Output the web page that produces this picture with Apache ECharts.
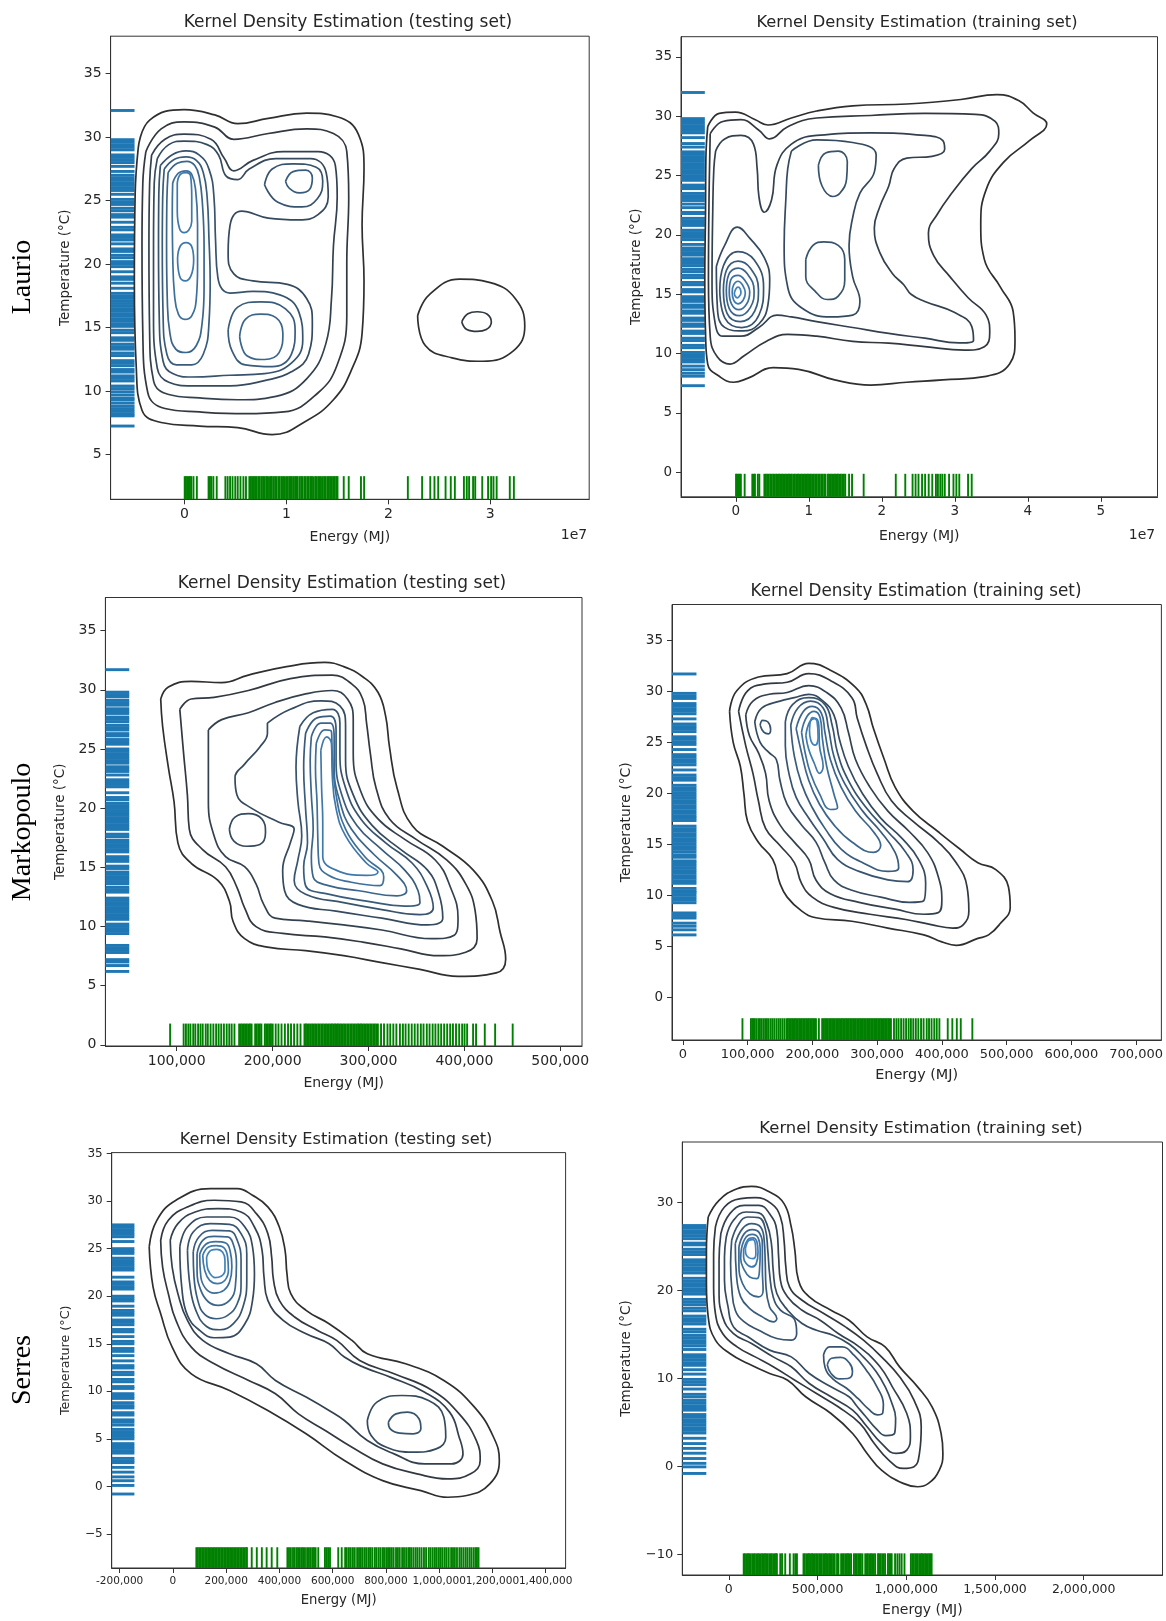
<!DOCTYPE html>
<html><head><meta charset="utf-8">
<script src="https://cdn.jsdelivr.net/npm/echarts@6/dist/echarts.min.js"></script>
<style>html,body{margin:0;padding:0;background:#fff}#c{width:1166px;height:1621px}</style>
</head><body><div id="c"></div>
<script>
// ---------------- DATA ----------------
const ROW_LABELS = ['Laurio', 'Markopoulo', 'Serres'];
const TITLES = ['Kernel Density Estimation (testing set)', 'Kernel Density Estimation (training set)',
  'Kernel Density Estimation (testing set)', 'Kernel Density Estimation (training set)',
  'Kernel Density Estimation (testing set)', 'Kernel Density Estimation (training set)'];

// tick values
const P1_x_ticks = [0, 1, 2, 3];              // x 1e7 MJ
const P1_y_ticks = [5, 10, 15, 20, 25, 30, 35];
const P2_x_ticks = [0, 1, 2, 3, 4, 5];        // x 1e7 MJ
const P2_y_ticks = [0, 5, 10, 15, 20, 25, 30, 35];
const P3_x_ticks = [100, 200, 300, 400, 500]; // x thousand MJ
const P3_y_ticks = [0, 5, 10, 15, 20, 25, 30, 35];
const P4_x_ticks = [0, 100, 200, 300, 400, 500, 600, 700];
const P4_y_ticks = [0, 5, 10, 15, 20, 25, 30, 35];
const P5_x_ticks = [-200, 0, 200, 400, 600, 800, 1000, 1200, 1400];
const P5_y_ticks = [-5, 0, 5, 10, 15, 20, 25, 30, 35];
const P6_x_ticks = [0, 500, 1000, 1500, 2000];
const P6_y_ticks = [-10, 0, 10, 20, 30];

// rug values: energy (bottom, green) and temperature (left, blue)
const P1_energy_rug = [0.002,0.014,0.027,0.041,0.053,0.066,0.088,0.121,0.236,0.249,0.262,0.283,0.316,0.401,0.423,0.447,0.471,0.498,0.522,0.549,0.578,0.603,
0.636,0.651,0.664,0.681,0.694,0.709,0.726,0.739,0.757,0.771,0.784,0.801,0.813,0.829,0.846,0.857,
0.874,0.889,0.903,0.921,0.934,0.951,0.966,0.978,0.996,1.009,1.026,1.041,1.054,1.072,1.086,1.099,1.111,
1.131,1.146,1.158,1.176,1.189,1.206,1.219,1.236,1.248,1.261,
1.281,1.294,1.311,1.326,1.339,1.356,1.371,1.384,1.401,1.416,1.429,1.446,1.461,1.474,1.489,1.501,
1.562,1.611,1.731,1.762,2.191,2.331,2.411,2.452,2.489,2.561,2.612,2.652,2.741,2.769,2.792,2.831,2.852,2.921,2.978,3.008,3.031,3.062,3.191,3.231];
const P1_temp_rug = [32.1,29.8,29.6,29.4,29.2,29.0,28.6,28.4,28.2,28.0,27.7,27.3,27.0,26.8,26.6,26.4,26.2,26.0,25.8,25.5,25.1,24.9,24.7,24.4,24.2,23.9,23.7,23.3,22.9,22.7,22.3,22.1,21.9,21.6,21.2,21.0,20.7,20.5,20.2,20.0,19.8,19.4,19.0,18.8,18.5,18.1,17.7,17.5,17.3,17.1,16.9,16.7,16.5,16.3,16.1,15.9,15.7,15.5,15.3,15.1,14.8,14.6,14.2,14.0,13.7,13.5,13.3,13.0,12.8,12.4,12.2,12.0,11.7,11.5,11.2,11.0,10.8,10.4,10.2,9.95,9.7,9.45,9.3,9.05,8.8,8.6,8.4,8.2,8.05,7.25];

const P2_energy_rug = [0.003,0.021,0.038,0.052,0.069,0.121,0.226,0.243,0.262,0.301,0.322,
0.391,0.412,0.431,0.449,0.471,0.489,0.511,0.528,0.551,0.569,0.591,0.609,0.631,0.648,0.671,0.689,0.711,0.729,0.751,0.768,0.791,0.809,0.829,0.851,0.869,0.891,0.909,0.931,0.949,0.971,0.989,1.011,1.029,1.051,1.069,1.091,1.109,1.131,1.149,1.171,1.189,1.211,1.229,
1.262,1.281,1.301,1.319,1.341,1.359,1.381,1.399,1.421,1.439,1.461,1.479,1.499,
1.551,1.592,1.751,2.191,2.321,2.421,2.462,2.502,2.551,2.593,2.642,2.691,2.741,2.768,2.801,2.829,2.862,2.921,2.981,3.021,3.061,3.181,3.231];
const P2_temp_rug = [32.0,29.8,29.6,29.4,29.2,29.0,28.8,28.6,28.2,27.7,27.4,27.0,26.8,26.6,26.4,26.2,26.0,25.8,25.6,25.4,25.2,25.0,24.8,24.6,24.2,24.0,23.9,23.5,23.3,23.1,22.9,22.6,22.3,21.9,21.8,21.4,21.2,21.0,20.8,20.4,20.2,20.0,19.8,19.6,19.2,18.9,18.7,18.5,18.3,18.0,17.8,17.6,17.4,17.1,16.9,16.6,16.4,16.0,15.8,15.4,15.2,14.8,14.6,14.4,14.1,13.9,13.6,13.4,13.0,12.8,12.5,12.3,11.9,11.7,11.3,11.1,10.7,10.5,10.1,9.9,9.7,9.5,9.3,8.95,8.65,8.35,8.1,7.3];

const P3_energy_rug = [93.1,107.2,109.6,112.1,114.3,117.2,119.4,122.3,124.8,127.1,130.2,132.4,135.3,138.2,141.1,143.7,146.4,149.2,152.1,154.8,157.3,160.2,
165.1,166.8,168.3,170.1,171.6,173.2,174.9,176.4,178.1,181.8,183.4,185.1,186.7,188.3,191.9,193.4,195.1,196.8,198.3,200.1,
203.2,206.1,209.3,212.8,216.1,219.2,222.4,225.8,229.1,
233.2,234.8,236.3,237.9,239.6,241.2,242.7,244.3,245.9,247.6,249.1,250.8,252.3,253.9,255.6,257.1,258.7,260.3,261.9,263.5,265.1,266.7,268.2,269.9,271.4,273.1,274.6,276.2,277.9,279.4,281.1,282.6,284.2,285.8,287.4,289.1,290.6,292.2,293.8,295.4,297.1,298.6,300.2,301.8,303.4,305.1,306.6,308.2,309.8,
313.1,316.2,319.8,322.7,325.9,329.1,332.8,335.9,338.7,341.9,345.1,348.2,351.3,354.6,357.4,360.8,363.7,366.9,369.8,372.9,375.8,378.9,382.1,385.2,388.1,391.3,394.6,397.7,400.2,402.9,409.1,412.2,421.3,432.1,450.4];
const P3_temp_rug = [31.7,29.8,29.6,29.4,29.1,28.9,28.7,28.4,28.2,28.0,27.7,27.5,27.3,27.0,26.8,26.6,26.3,26.1,25.8,25.6,25.4,25.0,24.8,24.6,24.4,24.2,24.0,23.8,23.5,23.3,23.1,22.8,22.4,22.2,22.0,21.8,21.3,20.9,20.7,20.4,20.2,20.0,19.8,19.6,19.4,19.2,19.0,18.8,18.6,18.4,18.2,17.8,17.6,17.3,17.1,16.9,16.7,16.5,16.3,15.9,15.7,15.5,15.1,14.9,14.6,14.4,14.2,14.0,13.8,13.6,13.3,13.1,12.9,12.4,12.2,12.0,11.8,11.6,11.4,11.2,11.0,10.8,10.6,10.2,10.0,9.8,9.6,9.4,8.4,8.2,8.0,7.8,7.2,7.0,6.7,6.2];

const P4_energy_rug = [92.1,105.2,107.3,109.1,111.2,113.8,116.7,119.1,121.8,124.6,127.2,129.9,132.6,135.8,138.7,141.6,144.8,147.9,150.7,153.8,156.9,
160.1,162.3,164.4,166.6,168.7,170.9,173.1,175.2,177.4,179.6,181.7,183.9,186.1,188.2,190.4,192.6,194.7,196.9,199.1,201.2,203.4,205.6,
210.1,215.2,217.4,219.6,221.7,223.9,226.1,228.2,230.4,232.6,234.7,236.9,239.1,241.2,243.4,245.6,247.7,249.9,252.1,254.2,256.4,258.6,260.7,262.9,265.1,267.2,269.4,271.6,273.7,275.9,278.1,280.2,282.4,284.6,286.7,288.9,291.1,293.2,295.4,297.6,299.7,301.9,304.1,306.2,308.4,310.6,312.7,314.9,317.1,319.2,321.4,
326.1,329.8,333.2,337.1,340.9,344.8,348.7,352.2,355.9,359.8,363.7,367.9,371.8,376.6,380.2,384.1,388.3,392.1,396.2,409.1,416.2,423.1,429.2,447.1];
const P4_temp_rug = [31.7,29.8,29.55,29.3,28.8,28.55,28.3,28.05,27.8,27.3,26.8,26.55,26.3,26.05,25.55,25.3,25.05,24.8,24.3,23.8,23.55,23.3,23.05,22.8,22.3,21.8,21.55,21.3,20.8,20.55,20.3,20.05,19.8,19.55,19.3,19.05,18.8,18.55,18.3,18.05,17.8,17.6,17.35,16.8,16.55,16.3,16.05,15.8,15.55,15.3,15.05,14.8,14.55,14.3,14.0,13.75,13.4,13.2,12.95,12.7,12.45,12.2,11.95,11.7,11.45,11.2,10.7,10.45,10.3,10.05,9.8,9.55,9.3,8.3,8.05,7.8,7.3,7.0,6.65,6.15];

const P5_energy_rug = [88,93.5,99,104.5,110,115.5,121,126.5,132,137.5,143,148.5,154,159.5,165,170.5,176,181.5,187,192.5,198,203.5,209,214.5,220,225.5,231,236.5,242,247.5,253,258.5,264,269.5,275,278,
296,315,334,352,371,392,
430,436,443,451,457,464,470,477,484,489,496,504,511,518,525,530,536,546,571,577,583,590,621,634,647,653,661,668,676,683,692,699,706,713,721,728,736,742,749,758,764,772,779,787,793,801,808,815,822,829,838,845,852,861,868,876,884,889,895,903,911,918,926,934,943,951,961,968,976,984,991,999,1006,1013,1021,1028,1036,1045,1052,1059,1067,1076,1083,1091,1099,1106,1114,1121,1129,1136,1142,1148];
const P5_temp_rug = [27.5,27.25,27.0,26.75,26.5,26.25,25.75,25.0,24.75,24.5,24.0,23.75,23.5,23.25,23.0,22.75,22.0,21.5,21.25,21.0,20.75,20.0,19.75,19.5,18.95,18.5,18.25,18.0,17.5,17.25,17.0,16.5,16.25,15.75,15.25,15.0,14.5,14.2,13.75,13.2,12.7,12.45,12.0,11.75,11.25,11.0,10.5,10.3,9.75,9.5,9.25,8.8,8.5,8.25,7.75,7.5,7.0,6.75,6.45,6.0,5.75,5.5,5.25,5.0,4.5,4.25,4.0,3.75,3.5,2.95,2.7,2.5,2.0,1.5,1.0,0.6,0.1,-0.8];

const P6_energy_rug = [84,91,99,108,115,123,132,140,147,156,164,171,180,188,195,204,212,219,228,236,243,252,260,267,271,
290,300,318,344,365,375,384,
421,428,437,445,452,461,469,476,485,493,500,509,517,524,533,541,548,557,565,572,581,589,597,
610,618,
633,641,648,657,665,672,681,689,705,713,720,729,737,744,753,769,777,784,793,801,808,817,825,841,849,856,865,873,881,897,905,912,918,
937,950,962,974,990,
1026,1034,1041,1050,1058,1065,1074,1082,1089,1098,1106,1113,1122,1130,1137,1143];
const P6_temp_rug = [27.4,27.1,26.8,26.5,26.2,25.9,25.4,25.2,24.7,24.4,24.1,23.5,23.2,22.9,22.6,22.3,22.0,21.4,21.1,20.8,20.5,20.2,19.9,19.6,19.0,18.7,18.4,18.0,17.7,17.1,16.8,16.5,16.2,15.6,15.3,14.9,14.6,14.3,14.0,13.7,13.3,12.7,12.4,12.1,11.8,11.5,11.0,10.5,9.9,9.6,9.3,8.8,8.2,7.9,7.5,7.2,6.9,6.6,6.4,5.9,5.6,5.3,5.0,4.7,4.4,4.1,3.8,3.2,2.6,2.05,1.5,0.9,0.35,-0.05,-0.8];

// contour rings: [level, [[energy, temperature], ...]]
const P1_rings = [
 [1, [[-0.454,29.14],[-0.342,31.34],[-0.004,32.16],[0.297,31.75],[0.522,31.06],[0.822,31.48],[1.198,31.89],[1.498,31.61],[1.705,30.24],[1.761,27.49],[1.742,23.08],[1.761,18.68],[1.742,14.55],[1.630,11.52],[1.461,9.32],[1.198,7.67],[0.860,6.57],[0.522,7.12],[0.146,7.25],[-0.229,7.53],[-0.417,8.49],[-0.473,11.80],[-0.492,18.68],[-0.484,25.56]]],
 [1, [[2.287,15.93],[2.400,17.58],[2.700,18.82],[3.000,18.54],[3.244,17.30],[3.338,15.10],[3.226,13.17],[2.925,12.35],[2.625,12.62],[2.362,13.59]]],
 [2, [[2.72,15.45],[2.78,16.1],[2.87,16.25],[2.97,16.05],[3.01,15.45],[2.96,14.85],[2.87,14.7],[2.77,14.85]]],
 [2, [[-0.379,28.86],[-0.229,30.65],[-0.004,31.20],[0.297,30.79],[0.484,29.83],[0.822,30.29],[1.198,30.65],[1.461,30.29],[1.592,28.86],[1.611,25.28],[1.592,20.05],[1.592,15.93],[1.498,12.07],[1.311,9.87],[0.973,8.36],[0.597,8.22],[0.146,8.36],[-0.192,8.63],[-0.360,9.87],[-0.409,14.55],[-0.417,21.43],[-0.409,26.38]]],
 [3, [[-0.323,28.59],[-0.192,29.83],[-0.004,30.24],[0.259,29.83],[0.391,28.31],[0.484,27.35],[0.672,28.17],[0.973,28.86],[1.311,28.86],[1.480,27.76],[1.498,25.28],[1.461,21.43],[1.442,17.30],[1.386,13.72],[1.198,10.97],[0.897,9.59],[0.522,9.32],[0.146,9.46],[-0.154,9.73],[-0.304,10.83],[-0.342,14.55],[-0.349,21.43],[-0.342,26.38]]],
 [4, [[-0.267,28.31],[-0.154,29.41],[-0.004,29.69],[0.222,29.41],[0.334,28.59],[0.409,26.93],[0.522,26.66],[0.635,27.49],[0.897,28.31],[1.235,28.31],[1.39,27.2],[1.41,25.3],[1.31,23.9],[1.123,23.49],[0.822,23.63],[0.560,24.18],[0.447,23.08],[0.428,20.88],[0.484,19.23],[0.672,18.68],[1.010,18.40],[1.198,17.30],[1.254,15.38],[1.217,12.90],[1.048,11.52],[0.785,10.83],[0.447,10.42],[0.071,10.42],[-0.154,10.70],[-0.267,11.80],[-0.304,15.93],[-0.304,21.43],[-0.297,26.38]]],
 [5, [[0.785,26.25],[0.860,27.49],[1.066,27.90],[1.292,27.63],[1.356,26.52],[1.303,25.15],[1.153,24.51],[0.916,24.87]]],
 [6, [[0.991,26.52],[1.066,27.29],[1.190,27.40],[1.254,26.80],[1.228,25.89],[1.130,25.61],[1.029,25.97]]],
 [5, [[-0.237,27.76],[-0.116,28.64],[0.015,28.92],[0.146,28.59],[0.240,27.48],[0.289,25.28],[0.304,21.98],[0.327,18.95],[0.447,17.72],[0.672,17.85],[0.935,17.58],[1.123,16.20],[1.160,14.00],[1.048,12.21],[0.785,11.38],[0.447,11.25],[0.071,11.11],[-0.116,11.38],[-0.210,12.35],[-0.248,15.92],[-0.255,21.43],[-0.252,25.56]]],
 [6, [[-0.199,27.49],[-0.098,28.26],[0.015,28.45],[0.116,28.17],[0.184,27.21],[0.222,25.28],[0.240,21.98],[0.252,18.68],[0.240,15.37],[0.184,12.90],[0.071,12.07],[-0.079,12.07],[-0.173,12.90],[-0.210,15.93],[-0.218,21.43],[-0.214,25.28]]],
 [6, [[0.428,14.82],[0.522,16.61],[0.747,17.03],[0.991,16.48],[1.085,14.82],[1.048,12.90],[0.860,11.93],[0.597,12.07],[0.466,13.17]]],
 [7, [[-0.161,27.21],[-0.071,27.95],[0.023,28.09],[0.101,27.76],[0.146,26.80],[0.176,24.73],[0.192,21.43],[0.192,18.13],[0.173,15.38],[0.116,13.59],[0.015,13.04],[-0.086,13.31],[-0.143,14.55],[-0.169,17.30],[-0.176,21.43],[-0.173,25.01]]],
 [7, [[0.541,14.27],[0.597,15.65],[0.747,16.06],[0.897,15.79],[0.965,14.55],[0.928,13.03],[0.785,12.49],[0.616,12.76]]],
 [8, [[-0.116,26.38],[-0.060,27.16],[0.015,27.35],[0.071,27.07],[0.109,25.83],[0.128,23.08],[0.128,19.78],[0.116,17.30],[0.071,15.93],[0.004,15.65],[-0.060,16.06],[-0.098,17.58],[-0.116,20.88],[-0.120,24.18]]],
 [9, [[-0.071,26.38],[-0.041,27.07],[0.015,27.21],[0.060,26.93],[0.071,25.28],[0.071,23.36],[0.041,22.67],[-0.004,22.48],[-0.049,22.81],[-0.071,24.18]]],
 [9, [[-0.068,20.47],[-0.041,21.43],[0.015,21.70],[0.071,21.38],[0.090,20.33],[0.064,19.09],[0.008,18.68],[-0.049,19.09]]]
];

const P2_rings = [
 [1, [[-0.385,29.12],[-0.227,30.24],[-0.005,30.35],[0.267,29.71],[0.440,29.26],[0.761,29.85],[1.107,30.44],[1.601,30.88],[2.342,31.03],[3.083,31.41],[3.577,31.82],[3.874,31.32],[4.071,30.29],[4.259,29.35],[4.022,27.94],[3.676,26.18],[3.429,23.82],[3.355,20.88],[3.404,17.94],[3.626,15.59],[3.799,13.53],[3.824,11.18],[3.750,9.12],[3.429,8.09],[2.836,7.79],[2.342,7.59],[1.848,7.35],[1.354,7.79],[0.860,8.68],[0.514,8.82],[0.168,7.94],[-0.030,7.59],[-0.227,8.09],[-0.385,9.12],[-0.415,11.76],[-0.425,16.18],[-0.415,22.06],[-0.410,26.47]]],
 [2, [[-0.351,28.53],[-0.178,29.56],[0.069,29.71],[0.316,28.82],[0.464,28.09],[0.711,29.12],[1.107,29.85],[1.848,30.06],[2.589,30.24],[3.281,30.15],[3.552,29.56],[3.602,28.53],[3.478,27.06],[3.231,25.59],[2.959,23.53],[2.762,21.76],[2.638,20.15],[2.712,18.24],[2.935,16.47],[3.182,14.71],[3.429,13.24],[3.478,11.76],[3.404,10.59],[3.132,10.29],[2.589,10.59],[2.095,10.88],[1.601,11.03],[1.107,11.47],[0.711,11.62],[0.415,11.03],[0.119,9.85],[-0.079,9.12],[-0.252,9.71],[-0.351,11.47],[-0.375,16.18],[-0.366,23.53]]],
 [3, [[-0.277,27.06],[-0.153,28.09],[0.069,28.38],[0.242,27.65],[0.292,25.59],[0.316,23.24],[0.390,21.91],[0.489,22.94],[0.563,25.88],[0.761,27.65],[1.107,28.38],[1.848,28.59],[2.589,28.38],[2.836,27.94],[2.861,27.21],[2.688,26.62],[2.342,26.47],[2.169,25.59],[2.095,24.12],[1.971,22.35],[1.897,20.59],[1.971,18.53],[2.144,16.76],[2.30,15.8],[2.40,15.0],[2.589,14.4],[2.984,13.5],[3.231,12.3],[3.256,11.1],[3.058,10.9],[2.589,11.3],[2.095,11.7],[1.601,12.2],[1.107,12.7],[0.761,13.09],[0.563,13.24],[0.316,12.21],[0.069,11.47],[-0.178,11.47],[-0.286,12.65],[-0.326,16.18],[-0.316,22.06],[-0.301,25.59]]],
 [4, [[-0.267,17.35],[-0.153,19.12],[0.020,20.65],[0.193,19.71],[0.390,18.09],[0.464,16.18],[0.440,14.12],[0.316,12.50],[0.094,11.91],[-0.153,12.21],[-0.252,13.82]]],
 [4, [[0.761,27.06],[1.107,28.0],[1.601,27.79],[1.922,26.76],[1.897,25.29],[1.700,23.53],[1.601,21.47],[1.551,19.12],[1.601,16.47],[1.700,14.41],[1.601,13.24],[1.304,13.09],[0.909,13.82],[0.711,15.59],[0.662,19.12],[0.687,23.24],[0.711,25.59]]],
 [5, [[1.131,25.88],[1.230,26.91],[1.403,27.06],[1.527,26.18],[1.517,24.71],[1.428,23.53],[1.329,23.24],[1.181,24.12]]],
 [5, [[0.958,17.94],[1.057,19.12],[1.206,19.41],[1.403,19.12],[1.492,17.94],[1.492,16.18],[1.403,14.85],[1.255,14.56],[1.082,15.29],[0.958,16.47]]],
 [5, [[-0.22,15.3],[-0.17,17.4],[0.03,18.6],[0.25,17.9],[0.38,15.6],[0.32,13.3],[0.08,12.2],[-0.15,13.0]]],
 [6, [[-0.17,15.3],[-0.13,17.0],[0.03,17.8],[0.20,17.2],[0.31,15.4],[0.26,13.6],[0.06,12.7],[-0.12,13.4]]],
 [7, [[-0.13,15.3],[-0.10,16.6],[0.03,17.2],[0.16,16.7],[0.25,15.3],[0.20,13.9],[0.05,13.2],[-0.09,13.8]]],
 [8, [[-0.09,15.2],[-0.07,16.2],[0.03,16.6],[0.12,16.2],[0.19,15.2],[0.15,14.2],[0.04,13.7],[-0.06,14.2]]],
 [9, [[-0.05,15.2],[-0.03,15.8],[0.03,16.1],[0.09,15.8],[0.13,15.1],[0.10,14.5],[0.03,14.2],[-0.03,14.5]]],
 [10, [[-0.02,15.1],[0.0,15.45],[0.03,15.6],[0.06,15.45],[0.07,15.1],[0.05,14.85],[0.02,14.7],[-0.01,14.85]]]
];

const P3_rings = [
 [1, [[83.3,29.22],[91.3,30.23],[115.1,30.72],[146.9,30.60],[174.7,31.24],[214.5,31.96],[254.3,32.31],[274.1,31.96],[294.0,31.10],[309.9,29.79],[317.9,27.77],[321.9,25.17],[329.8,21.70],[345.7,18.52],[377.5,16.78],[409.3,14.76],[429.2,12.15],[437.2,9.55],[443.1,7.24],[433.2,6.08],[393.4,5.79],[353.7,6.37],[313.9,6.95],[274.1,7.53],[234.4,7.96],[194.6,8.25],[170.8,8.97],[158.8,10.42],[154.9,12.15],[142.9,13.89],[115.1,15.34],[101.2,17.07],[97.2,20.54],[91.3,23.43],[85.3,26.90]]],
 [2, [[103.2,28.35],[115.1,29.22],[139.0,29.36],[174.7,29.94],[218.5,30.95],[262.2,31.24],[282.1,30.52],[294.0,29.22],[298.0,27.19],[302.0,24.59],[307.9,21.70],[321.9,19.09],[349.7,17.36],[381.5,15.62],[401.4,13.60],[411.3,11.29],[413.3,8.97],[401.4,7.82],[373.5,7.53],[333.8,8.11],[294.0,8.68],[254.3,9.12],[210.5,9.41],[182.7,9.99],[170.8,11.58],[162.8,13.31],[150.9,15.05],[127.0,16.49],[113.1,18.23],[111.1,21.12],[107.2,24.59]]],
 [3, [[133.0,26.61],[146.9,27.48],[174.7,28.06],[202.6,28.93],[234.4,29.65],[262.2,29.94],[278.1,29.22],[284.1,27.48],[284.1,24.59],[292.0,21.41],[309.9,19.09],[337.8,17.36],[369.6,15.62],[385.5,13.31],[393.4,10.71],[389.4,9.26],[365.6,8.97],[313.9,9.70],[274.1,10.13],[234.4,10.48],[202.6,10.71],[190.7,11.87],[182.7,13.60],[170.8,15.05],[150.9,15.91],[139.0,17.65],[133.0,20.54],[133.0,23.43]]],
 [4, [[194.6,27.19],[218.5,28.35],[250.3,29.07],[270.2,28.64],[276.1,26.90],[276.1,24.01],[284.1,21.12],[304.0,18.52],[333.8,16.49],[361.6,14.76],[373.5,12.73],[377.5,10.71],[361.6,10.13],[313.9,10.71],[266.2,11.29],[226.4,11.87],[212.5,13.02],[210.5,14.76],[218.5,17.07],[222.5,18.23],[206.6,18.81],[178.7,19.96],[162.8,21.12],[160.8,22.57],[170.8,23.72],[186.7,25.17],[194.6,26.32]]],
 [4, [[154.9,18.23],[160.8,19.24],[174.7,19.53],[188.7,19.09],[192.6,17.94],[186.7,16.93],[172.8,16.78],[159.6,17.22]]],
 [5, [[228.4,26.90],[242.3,28.06],[262.2,28.35],[270.2,27.19],[270.2,24.59],[276.1,21.70],[292.0,19.09],[317.9,17.07],[345.7,15.34],[361.6,13.31],[367.6,11.58],[353.7,11.0],[313.9,11.43],[274.1,12.01],[234.4,12.73],[222.5,13.89],[226.4,15.63],[230.4,17.65],[226.4,20.54],[224.4,23.43]]],
 [6, [[234.4,26.32],[246.3,27.63],[260.2,27.77],[266.2,26.61],[266.2,24.01],[272.2,21.12],[288.1,18.52],[313.9,16.49],[337.8,14.76],[351.7,13.02],[353.7,12.01],[337.8,11.72],[298.0,12.15],[258.2,12.73],[234.4,13.45],[232.4,15.05],[236.4,17.07],[234.4,19.96],[232.4,23.43]]],
 [7, [[240.4,26.03],[250.3,27.19],[260.2,27.19],[264.2,26.03],[264.2,23.43],[270.2,20.54],[282.1,18.23],[306.0,16.06],[329.8,14.32],[339.8,13.02],[329.8,12.59],[290.1,13.02],[258.2,13.45],[242.3,14.18],[240.4,15.91],[242.3,18.23],[240.4,21.12],[239.2,24.01]]],
 [8, [[245.5,25.46],[254.3,26.61],[261.4,26.47],[262.2,24.59],[266.2,21.12],[276.1,18.23],[296.0,15.91],[315.9,14.18],[311.9,13.45],[282.1,13.74],[258.2,14.32],[248.3,15.34],[247.1,17.65],[246.3,20.54],[244.7,23.43]]],
 [9, [[250.3,24.88],[256.3,26.03],[261.4,25.46],[262.2,22.85],[266.2,19.96],[276.1,17.65],[298.0,15.34],[309.9,14.61],[298.0,14.32],[266.2,14.76],[252.3,15.91],[252.3,18.81],[251.1,21.70]]]
];

const P4_rings = [
 [1, [[72.2,28.03],[83.3,30.05],[116.7,31.40],[161.1,31.73],[194.4,32.74],[227.8,32.07],[266.7,30.39],[283.3,28.70],[294.4,26.35],[311.1,23.32],[327.8,20.62],[355.6,18.27],[394.4,16.25],[427.8,14.56],[455.6,13.22],[483.3,12.54],[502.8,10.86],[505.6,8.84],[488.9,7.16],[472.2,6.15],[455.6,5.81],[422.2,5.13],[400.0,5.47],[372.2,6.15],[316.7,6.82],[261.1,7.49],[205.6,7.83],[183.3,8.50],[161.1,9.85],[150.0,11.20],[138.9,13.54],[116.7,15.23],[100.0,17.26],[94.4,19.95],[88.9,22.64],[77.8,25.00]]],
 [2, [[86.1,28.03],[100.0,30.05],[127.8,30.72],[161.1,30.89],[194.4,31.73],[227.8,31.06],[261.1,29.38],[269.4,27.36],[283.3,24.66],[300.0,21.97],[322.2,19.28],[355.6,17.26],[394.4,15.24],[422.2,13.22],[438.9,10.86],[441.7,8.50],[433.3,7.16],[416.7,6.82],[383.3,7.16],[344.4,7.66],[288.9,8.17],[233.3,8.84],[200.0,9.85],[183.3,11.20],[172.2,13.22],[150.0,14.90],[127.8,16.58],[116.7,19.28],[108.3,21.97],[97.2,24.66]]],
 [3, [[97.2,27.69],[108.3,29.04],[133.3,29.71],[161.1,29.88],[194.4,30.56],[222.2,29.88],[244.4,28.37],[255.6,26.01],[266.7,23.32],[288.9,20.62],[316.7,18.27],[350.0,16.25],[377.8,14.23],[394.4,11.87],[400.0,9.51],[394.4,8.33],[372.2,8.17],[327.8,8.67],[272.2,9.34],[227.8,10.19],[205.6,11.53],[194.4,13.54],[172.2,15.23],[150.0,16.92],[133.3,19.28],[127.8,21.97],[116.7,23.99],[102.8,25.67]]],
 [4, [[111.1,27.02],[122.2,28.37],[150.0,29.04],[172.2,29.38],[194.4,29.71],[216.7,29.04],[233.3,27.69],[241.7,25.34],[255.6,22.64],[277.8,19.95],[305.6,17.59],[338.9,15.57],[363.9,13.55],[375.0,11.20],[372.2,9.51],[350.0,9.34],[305.6,9.85],[261.1,10.52],[233.3,11.53],[219.4,13.22],[205.6,15.23],[183.3,16.92],[161.1,18.94],[150.0,21.29],[144.4,23.32],[133.3,23.99],[119.4,25.00]]],
 [5, [[119.4,26.68],[123.3,27.16],[131.1,27.02],[135.6,26.28],[132.2,25.84],[125.0,26.01]]],
 [5, [[158.3,27.02],[169.4,28.70],[194.4,29.38],[219.4,28.70],[230.6,26.68],[238.9,23.99],[255.6,21.29],[283.3,18.60],[316.7,16.25],[344.4,14.23],[355.6,12.54],[347.2,11.36],[316.7,11.53],[272.2,12.37],[238.9,13.55],[216.7,15.57],[194.4,17.59],[175.0,19.61],[163.9,21.97],[158.3,24.66]]],
 [6, [[166.7,26.68],[177.8,28.37],[197.2,29.04],[216.7,28.37],[225.0,26.35],[233.3,23.65],[250.0,20.96],[277.8,18.27],[305.6,16.25],[327.8,14.23],[333.3,12.71],[316.7,12.37],[277.8,13.22],[244.4,14.56],[219.4,16.58],[200.0,18.60],[183.3,20.96],[172.2,23.65]]],
 [7, [[175.0,26.35],[186.1,28.03],[200.0,28.53],[213.9,27.86],[219.4,26.01],[227.8,23.32],[244.4,20.62],[266.7,18.27],[294.4,16.25],[305.6,14.90],[294.4,14.23],[261.1,15.24],[233.3,16.92],[211.1,18.94],[194.4,21.29],[183.3,23.99]]],
 [8, [[183.3,26.01],[191.7,27.53],[202.8,28.03],[212.2,27.36],[215.6,25.34],[222.2,22.64],[233.3,19.95],[238.9,18.60],[227.8,18.43],[211.1,19.95],[197.2,21.97],[188.9,23.99]]],
 [9, [[190.0,25.67],[196.1,27.02],[204.4,27.36],[210.0,26.68],[211.1,24.66],[216.7,22.64],[211.1,21.97],[202.8,22.98],[194.4,24.33]]],
 [10, [[195.6,26.18],[200.0,27.42],[207.2,27.09],[208.9,25.51],[204.4,24.73],[197.8,25.17]]]
];

const P5_rings = [
 [1, [[-89.1,25.18],[-60.4,27.98],[11.5,30.09],[140.9,31.31],[241.5,31.31],[299.0,30.61],[356.5,29.39],[399.6,27.28],[421.2,24.82],[428.3,22.37],[442.7,20.26],[500.2,18.51],[586.5,17.11],[672.7,15.35],[730.2,13.95],[873.9,12.89],[1017.7,11.14],[1132.7,8.33],[1204.5,5.17],[1226.1,2.72],[1190.2,0.26],[1103.9,-0.96],[1032.1,-1.14],[931.4,-0.44],[787.7,0.61],[644.0,2.72],[500.2,5.53],[356.5,7.98],[212.7,10.09],[69.0,11.84],[-2.9,14.65],[-46.0,18.16],[-74.7,20.97]]],
 [2, [[-46.0,25.88],[-17.2,27.98],[54.6,29.39],[155.2,30.09],[255.9,29.91],[313.4,28.68],[356.5,26.58],[370.8,24.12],[378.0,21.67],[399.6,19.56],[457.1,17.81],[543.3,16.40],[615.2,15.35],[701.5,13.25],[830.8,11.84],[974.6,10.09],[1075.2,7.63],[1139.9,4.82],[1154.2,2.72],[1118.3,1.32],[1032.1,0.79],[917.1,1.32],[787.7,2.37],[672.7,4.12],[572.1,5.88],[471.5,7.63],[385.2,9.74],[284.6,11.14],[155.2,12.89],[69.0,14.65],[11.5,17.45],[-17.2,20.26],[-38.8,23.07]]],
 [3, [[-10.1,25.88],[18.7,27.63],[83.4,28.86],[169.6,29.21],[255.9,28.86],[306.2,27.28],[334.9,24.82],[342.1,22.02],[356.5,19.56],[414.0,17.46],[500.2,16.05],[586.5,15.00],[644.0,13.60],[715.8,12.54],[816.4,11.49],[945.8,9.91],[1039.2,7.81],[1075.2,5.18],[1089.5,3.42],[1046.4,2.37],[945.8,2.37],[830.8,3.42],[730.2,4.82],[644.0,6.93],[586.5,7.98],[500.2,9.39],[385.2,11.14],[313.4,12.89],[212.7,13.95],[112.1,15.35],[54.6,17.45],[18.7,20.26],[-2.9,23.07]]],
 [4, [[25.9,25.18],[54.6,27.28],[126.5,28.33],[212.7,28.33],[270.2,27.28],[299.0,25.18],[306.2,22.37],[299.0,19.56],[270.2,17.10],[212.7,15.70],[155.2,15.63],[100.6,16.40],[54.6,17.98],[33.1,20.97]]],
 [4, [[730.2,6.93],[766.1,8.86],[859.6,9.56],[960.2,9.04],[1017.7,7.28],[1024.9,5.18],[988.9,3.95],[902.7,3.60],[802.1,4.12],[744.6,5.35]]],
 [5, [[809.3,6.75],[838.0,7.63],[881.1,7.81],[924.3,7.11],[931.4,6.05],[902.7,5.53],[852.4,5.60],[816.4,6.05]]],
 [5, [[54.6,24.82],[76.2,26.75],[140.9,27.63],[212.7,27.56],[255.9,26.58],[277.4,24.47],[277.4,21.67],[263.0,18.86],[227.1,17.12],[176.8,16.47],[126.5,16.82],[86.2,18.51],[64.7,20.97]]],
 [6, [[76.2,24.65],[97.7,26.23],[148.1,26.93],[212.7,26.86],[241.5,25.88],[255.9,23.77],[255.9,21.32],[241.5,19.21],[205.5,17.98],[162.4,17.63],[119.3,18.09],[93.4,19.56],[79.1,22.02]]],
 [7, [[90.6,24.47],[112.1,25.88],[155.2,26.30],[205.5,26.23],[230.0,25.18],[238.6,23.42],[234.3,20.97],[212.7,19.56],[169.6,19.04],[133.7,19.39],[104.9,20.61],[90.6,22.72]]],
 [8, [[100.6,24.40],[123.6,25.46],[159.6,25.74],[198.4,25.60],[215.6,24.65],[221.4,23.07],[212.7,21.49],[191.2,20.61],[155.2,20.33],[123.6,20.79],[104.9,22.02]]],
 [9, [[112.1,24.30],[133.7,25.18],[162.4,25.32],[191.2,25.11],[205.5,24.12],[208.4,22.72],[195.5,21.67],[166.7,21.32],[138.0,21.67],[119.3,22.72]]],
 [10, [[126.5,24.12],[143.7,24.82],[165.3,24.93],[186.9,24.61],[195.5,23.77],[195.5,22.72],[181.1,22.09],[158.1,21.95],[138.0,22.44],[127.9,23.25]]]
];

const P6_rings = [
 [1, [[-116.0,28.37],[-54.9,30.27],[46.8,31.59],[128.2,31.86],[229.9,31.21],[311.3,29.89],[352.0,27.24],[372.3,24.58],[392.7,21.17],[453.7,19.28],[575.8,17.77],[677.5,16.63],[779.3,14.74],[881.0,13.60],[962.4,11.32],[1064.1,9.05],[1145.5,6.78],[1196.3,3.75],[1206.5,1.48],[1186.2,-0.42],[1125.1,-1.93],[1064.1,-2.31],[982.7,-1.93],[860.6,-0.42],[779.3,1.48],[697.9,3.75],[575.8,6.02],[433.4,7.92],[331.6,9.81],[229.9,10.57],[107.8,11.70],[6.1,12.84],[-75.3,14.36],[-116.0,17.01],[-126.1,20.80],[-126.1,24.58]]],
 [2, [[-75.3,27.24],[-24.4,29.51],[67.1,30.45],[148.5,30.57],[240.1,29.89],[291.0,28.37],[311.3,25.72],[321.5,22.69],[341.8,20.42],[413.0,18.90],[535.1,17.39],[657.2,15.87],[758.9,14.36],[860.6,12.46],[962.4,10.19],[1043.7,7.54],[1084.4,4.51],[1074.3,1.48],[1043.7,-0.04],[982.7,-0.23],[901.3,0.72],[819.9,2.61],[738.6,4.89],[616.5,6.78],[494.4,8.29],[372.3,9.81],[250.3,11.33],[148.5,12.46],[46.8,13.60],[-34.6,15.11],[-75.3,17.39],[-85.5,20.42],[-85.5,24.20]]],
 [3, [[-44.8,26.48],[6.1,28.75],[87.5,29.70],[168.9,29.70],[229.9,28.75],[270.6,26.86],[280.8,23.83],[291.0,21.17],[331.6,19.28],[413.0,17.77],[514.8,16.63],[616.5,15.11],[735.0,13.60],[850.0,11.40],[921.7,9.05],[1003.1,6.02],[1023.4,3.37],[1003.1,1.86],[942.0,1.48],[860.6,2.61],[779.3,4.51],[697.9,6.40],[575.8,7.92],[453.7,9.43],[352.0,11.33],[250.3,12.46],[128.2,13.98],[26.4,15.11],[-34.6,17.01],[-54.9,20.04],[-54.9,23.45]]],
 [4, [[-14.2,26.10],[26.4,27.99],[97.7,28.94],[168.9,28.83],[213.6,27.61],[240.1,25.34],[250.3,22.31],[270.6,19.66],[331.6,17.77],[413.0,16.25],[494.4,15.49],[590,14.9],[680,13.9],[760,12.4],[830,10.8],[885,8.9],[915,7.4],[940,5.5],[935,3.8],[885,3.5],[830,4.3],[770,5.7],[720,6.9],[677.5,7.92],[575.8,9.05],[453.7,10.57],[352.0,12.46],[229.9,13.23],[107.8,14.74],[26.4,15.87],[-4.1,18.14],[-24.4,21.17],[-24.4,23.83]]],
 [5, [[16.3,25.72],[57.0,27.61],[107.8,28.37],[168.9,28.30],[205.5,27.05],[219.7,24.58],[229.9,21.93],[250.3,19.28],[291.0,17.77],[372.3,16.63],[382.5,15.11],[352.0,14.36],[270.6,14.55],[168.9,15.49],[87.5,16.44],[36.6,17.77],[16.3,20.42],[10.2,23.07]]],
 [5, [[533.9,12.69],[568.5,13.59],[637.7,13.59],[706.8,12.62],[776.0,10.92],[836.5,8.99],[871.1,7.06],[867.7,6.09],[836.5,5.87],[788.1,6.51],[729.3,7.70],[663.6,8.89],[585.9,9.96],[542.6,11.24]]],
 [6, [[555,11.55],[580,12.3],[630,12.4],[680,11.75],[697,10.8],[672,10.0],[622,9.95],[575,10.6]]],
 [6, [[36.6,25.34],[77.3,27.05],[128.2,27.61],[179.0,27.24],[199.4,25.72],[205.5,23.07],[209.6,20.42],[229.9,18.14],[270.6,16.82],[250.3,16.44],[189.2,17.01],[118.0,17.96],[67.1,19.28],[42.7,21.93]]],
 [7, [[57.0,24.96],[87.5,26.48],[132.2,26.93],[172.9,26.55],[189.2,24.96],[189.2,22.31],[193.3,20.04],[168.9,19.28],[118.0,19.66],[77.3,20.80],[57.0,22.88]]],
 [8, [[71.2,24.77],[97.7,26.10],[132.2,26.40],[164.8,26.02],[177.0,24.58],[172.9,22.31],[158.7,21.36],[118.0,21.55],[83.4,22.50],[67.1,23.64]]],
 [9, [[83.4,24.66],[107.8,25.80],[134.3,25.99],[158.7,25.53],[164.8,24.39],[154.6,23.07],[128.2,22.69],[97.7,23.07],[83.4,23.83]]],
 [10, [[93.6,24.77],[113.9,25.72],[136.3,25.80],[150.6,25.15],[152.6,24.20],[136.3,23.64],[111.9,23.75],[95.6,24.20]]]
];

// ---------------- LAYOUT / STYLE ----------------
const LEVEL_COLORS = ['#2f2f2f','#313840','#33414f','#354a5e','#37536d','#395c7c','#3b658b','#3d6f9b','#3f79ab','#4183bb'];
const RUG_GREEN = '#008000', RUG_BLUE = '#1f77b4';
const TXT = '#262626', AX = '#333333';

function commas(v){ const s = Math.round(Math.abs(v)).toString().replace(/\B(?=(\d{3})+(?!\d))/g, ','); return (v < 0 ? '-' : '') + s; }
const fmtPlain = v => String(v);
const fmtK = v => commas(v * 1000);
const fmtY = v => v < 0 ? '\u2212' + Math.abs(v) : String(v);

const PANELS = [
 {box:[110.6,36.2,478.6,463.1], x:[-0.725,3.97], y:[1.48,37.95], xt:P1_x_ticks, yt:P1_y_ticks, xf:fmtPlain, tf:[14,14], nf:14, ng:[31,38.6], title:[348,23,17], rings:P1_rings, er:P1_energy_rug, tr:P1_temp_rug, off:[574,535]},
 {box:[681,36.7,476.5,460.1], x:[-0.751,5.776], y:[-2.06,36.7], xt:P2_x_ticks, yt:P2_y_ticks, xf:fmtPlain, tf:[13.5,13.5], nf:14, ng:[32.5,38], title:[917,23,16.3], rings:P2_rings, er:P2_energy_rug, tr:P2_temp_rug, off:[1142,535]},
 {box:[105.4,597.5,476.6,448.5], x:[25.6,522.7], y:[-0.1,37.8], xt:P3_x_ticks, yt:P3_y_ticks, xf:fmtK, tf:[14,14], nf:14, ng:[30,38], title:[342,584,17], rings:P3_rings, er:P3_energy_rug, tr:P3_temp_rug},
 {box:[672,604.5,491,435.5], x:[-16.7,739], y:[-4.14,38.5], xt:P4_x_ticks, yt:P4_y_ticks, xf:fmtK, tf:[13,13.5], nf:14.4, ng:[28,38.6], title:[916,592,16.8], rings:P4_rings, er:P4_energy_rug, tr:P4_temp_rug},
 {box:[111.7,1152.6,453.9,415.4], x:[-230,1475], y:[-8.58,35.1], xt:P5_x_ticks, yt:P5_y_ticks, xf:fmtK, tf:[10.5,12], nf:13.2, ng:[26.5,39.7], title:[336,1140,16.2], rings:P5_rings, er:P5_energy_rug, tr:P5_temp_rug},
 {box:[682.3,1142,480.2,433], x:[-262,2444], y:[-12.35,36.9], xt:P6_x_ticks, yt:P6_y_ticks, xf:fmtK, tf:[12.5,13], nf:14, ng:[28.5,48.6], title:[921,1129,16.4], rings:P6_rings, er:P6_energy_rug, tr:P6_temp_rug}
];

const FONT = '"DejaVu Sans", sans-serif';
const grids = [], xAxes = [], yAxes = [], series = [], graphics = [];

PANELS.forEach((p, i) => {
  grids.push({left:p.box[0], top:p.box[1], width:p.box[2], height:p.box[3], show:true, borderColor:AX, borderWidth:1, backgroundColor:'transparent', containLabel:false});
  xAxes.push({type:'value', gridIndex:i, min:p.x[0], max:p.x[1], splitLine:{show:false},
    axisLine:{show:true, onZero:false, lineStyle:{color:AX, width:1}},
    axisTick:{show:true, length:5, lineStyle:{color:AX}, customValues:p.xt},
    axisLabel:{customValues:p.xt, formatter:p.xf, fontSize:p.tf[0], color:TXT, fontFamily:FONT, margin:8},
    name:'Energy (MJ)', nameLocation:'middle', nameGap:p.ng[0], nameTextStyle:{fontSize:p.nf, color:TXT, fontFamily:FONT}});
  yAxes.push({type:'value', gridIndex:i, min:p.y[0], max:p.y[1], splitLine:{show:false},
    axisLine:{show:true, onZero:false, lineStyle:{color:AX, width:1}},
    axisTick:{show:true, length:5, lineStyle:{color:AX}, customValues:p.yt},
    axisLabel:{customValues:p.yt, formatter:fmtY, fontSize:p.tf[1], color:TXT, fontFamily:FONT, margin:9},
    name:'Temperature (\u00B0C)', nameLocation:'middle', nameRotate:90, nameGap:p.ng[1], nameTextStyle:{fontSize:p.nf - 0.5, color:TXT, fontFamily:FONT}});

  p.rings.forEach(([lvl, pts]) => {
    series.push({type:'line', xAxisIndex:i, yAxisIndex:i, data:pts.concat([pts[0]]), smooth:0.45, symbol:'none', showSymbol:false,
      lineStyle:{color:LEVEL_COLORS[lvl - 1], width:1.7}, silent:true, animation:false, z:3, clip:true});
  });

  series.push({type:'custom', xAxisIndex:i, yAxisIndex:i, data:p.er.map(v => [v]), silent:true, animation:false, z:2,
    renderItem:(params, api) => {
      const cs = params.coordSys;
      const x = api.coord([api.value(0), p.y[0]])[0];
      const yb = cs.y + cs.height;
      return {type:'line', shape:{x1:x, y1:yb, x2:x, y2:yb - cs.height * 0.05}, style:{stroke:RUG_GREEN, lineWidth:1.9}};
    }});
  series.push({type:'custom', xAxisIndex:i, yAxisIndex:i, data:p.tr.map(v => [v]), silent:true, animation:false, z:2,
    renderItem:(params, api) => {
      const cs = params.coordSys;
      const y = api.coord([p.x[0], api.value(0)])[1];
      return {type:'line', shape:{x1:cs.x, y1:y, x2:cs.x + cs.width * 0.05, y2:y}, style:{stroke:RUG_BLUE, lineWidth:2.9}};
    }});

  graphics.push({type:'text', x:p.title[0], y:p.title[1], silent:true,
    style:{text:TITLES[i], font:p.title[2] + 'px ' + FONT, fill:TXT, align:'center', verticalAlign:'middle'}});
  if (p.off) graphics.push({type:'text', x:p.off[0], y:p.off[1], silent:true,
    style:{text:'1e7', font:'14px ' + FONT, fill:TXT, align:'center', verticalAlign:'middle'}});
});

const ROW_POS = [[23,277],[23,832],[23,1370]];
ROW_LABELS.forEach((t, k) => graphics.push({type:'text', x:ROW_POS[k][0], y:ROW_POS[k][1], rotation:Math.PI / 2, silent:true,
  style:{text:t, font:'28px "Liberation Serif", "DejaVu Serif", serif', fill:'#000', align:'center', verticalAlign:'middle'}}));

const chart = echarts.init(document.getElementById('c'), null, {renderer:'canvas'});
chart.setOption({animation:false, backgroundColor:'#fff', grid:grids, xAxis:xAxes, yAxis:yAxes, series:series, graphic:graphics});
</script></body></html>
